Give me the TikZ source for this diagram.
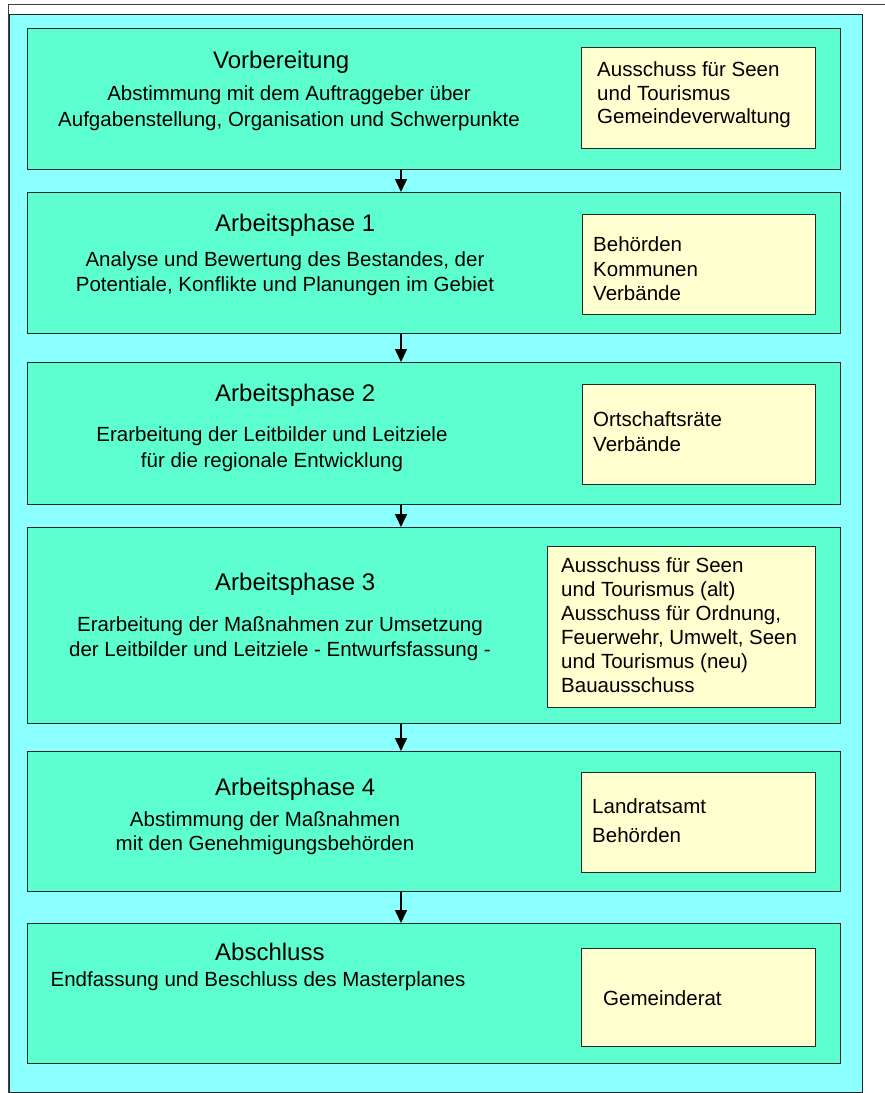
\documentclass[tikz,border=0pt]{standalone}
\usepackage{fontspec}
\setmainfont{Liberation Sans}
\usetikzlibrary{arrows.meta}
\definecolor{bgcyan}{RGB}{140,255,255}
\definecolor{boxgreen}{RGB}{94,255,206}
\definecolor{boxyellow}{RGB}{255,255,208}
\definecolor{edge}{RGB}{30,40,40}
\tikzset{
  phase/.style={draw=edge, line width=1.2pt, fill=boxgreen, anchor=north west, inner sep=0pt, minimum width=813pt},
  actors/.style={draw=edge, line width=1.2pt, fill=boxyellow, anchor=north west, inner sep=0pt},
  title/.style={anchor=base west, inner sep=0pt, font=\fontsize{24}{28}\selectfont},
  body/.style={anchor=base, inner sep=0pt, font=\fontsize{20.5}{24}\selectfont},
  ytxt/.style={anchor=base west, inner sep=0pt, font=\fontsize{20.5}{24}\selectfont},
  flow/.style={draw=black, line width=1.6pt, -{Triangle[width=12pt,length=13pt]}}
}
\begin{document}
\begin{tikzpicture}[x=1pt,y=-1pt]
\useasboundingbox (0,0) rectangle (885,1093);
% outer frame lines
\draw[line width=1pt, black!75] (8,4) -- (885,4);
\draw[line width=1pt, black!75] (8,4) -- (8,1093);
\node[draw=edge, line width=1.2pt, fill=bgcyan, anchor=north west, inner sep=0pt, minimum width=853pt, minimum height=1078pt] (bg) at (9,14) {};

% green phase boxes
\node[phase, minimum height=141pt] (g1) at (27,28) {};
\node[phase, minimum height=141pt] (g2) at (27,192) {};
\node[phase, minimum height=142pt] (g3) at (27,362) {};
\node[phase, minimum height=196pt] (g4) at (27,527) {};
\node[phase, minimum height=140pt] (g5) at (27,751) {};
\node[phase, minimum height=140pt] (g6) at (27,923) {};

% arrows
\draw[flow] (g1.south -| 401,0) -- (g2.north -| 401,0);
\draw[flow] (g2.south -| 401,0) -- (g3.north -| 401,0);
\draw[flow] (g3.south -| 401,0) -- (g4.north -| 401,0);
\draw[flow] (g4.south -| 401,0) -- (g5.north -| 401,0);
\draw[flow] (g5.south -| 401,0) -- (g6.north -| 401,0);

% yellow boxes
\node[actors, minimum width=234pt, minimum height=101pt] (y1) at (581,47) {};
\node[actors, minimum width=233pt, minimum height=100pt] (y2) at (582,214) {};
\node[actors, minimum width=233pt, minimum height=100pt] (y3) at (582,384) {};
\node[actors, minimum width=268pt, minimum height=161pt] (y4) at (547,546) {};
\node[actors, minimum width=234pt, minimum height=100pt] (y5) at (581,772) {};
\node[actors, minimum width=234pt, minimum height=98pt] (y6) at (581,948) {};

% phase 0
\node[title] (t1) at (213,68) {Vorbereitung};
\node[body] (b1a) at (289,100) {Abstimmung mit dem Auftraggeber über};
\node[body] (b1b) at (289,126) {Aufgabenstellung, Organisation und Schwerpunkte};
\node[ytxt] (a1a) at (597,76) {Ausschuss für Seen};
\node[ytxt] (a1b) at (597,100) {und Tourismus};
\node[ytxt] (a1c) at (597,123) {Gemeindeverwaltung};

% phase 1
\node[title] (t2) at (215,231) {Arbeitsphase 1};
\node[body] (b2a) at (285,266) {Analyse und Bewertung des Bestandes, der};
\node[body] (b2b) at (285,291) {Potentiale, Konflikte und Planungen im Gebiet};
\node[ytxt] (a2a) at (593,251) {Behörden};
\node[ytxt] (a2b) at (593,276) {Kommunen};
\node[ytxt] (a2c) at (593,300) {Verbände};

% phase 2
\node[title] (t3) at (215,401) {Arbeitsphase 2};
\node[body] (b3a) at (272,441) {Erarbeitung der Leitbilder und Leitziele};
\node[body] (b3b) at (272,467) {für die regionale Entwicklung};
\node[ytxt] (a3a) at (593,426) {Ortschaftsräte};
\node[ytxt] (a3b) at (593,451) {Verbände};

% phase 3
\node[title] (t4) at (215,590) {Arbeitsphase 3};
\node[body] (b4a) at (280,631) {Erarbeitung der Maßnahmen zur Umsetzung};
\node[body] (b4b) at (280,656) {der Leitbilder und Leitziele - Entwurfsfassung -};
\node[ytxt] (a4a) at (561,572) {Ausschuss für Seen};
\node[ytxt] (a4b) at (561,596) {und Tourismus (alt)};
\node[ytxt] (a4c) at (561,620) {Ausschuss für Ordnung,};
\node[ytxt] (a4d) at (561,644) {Feuerwehr, Umwelt, Seen};
\node[ytxt] (a4e) at (561,668) {und Tourismus (neu)};
\node[ytxt] (a4f) at (561,692) {Bauausschuss};

% phase 4
\node[title] (t5) at (215,795) {Arbeitsphase 4};
\node[body] (b5a) at (265,826) {Abstimmung der Maßnahmen};
\node[body] (b5b) at (265,850) {mit den Genehmigungsbehörden};
\node[ytxt] (a5a) at (592,813) {Landratsamt};
\node[ytxt] (a5b) at (592,842) {Behörden};

% final
\node[title] (t6) at (215,960) {Abschluss};
\node[body] (b6a) at (258,986) {Endfassung und Beschluss des Masterplanes};
\node[ytxt] (a6a) at (603,1005) {Gemeinderat};
\end{tikzpicture}
\end{document}
